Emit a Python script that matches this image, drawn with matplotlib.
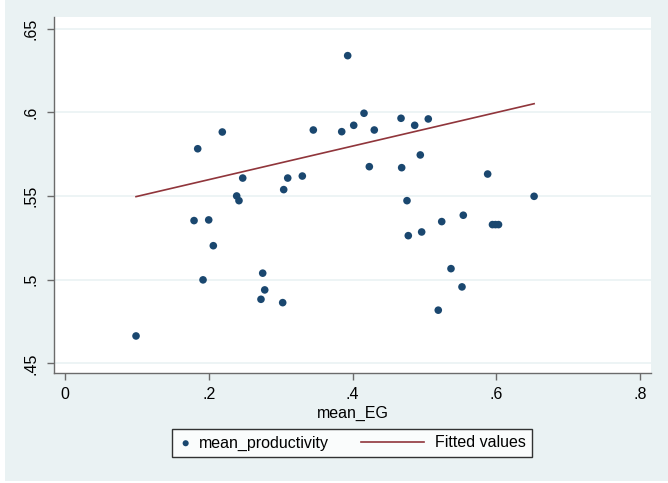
import matplotlib
matplotlib.use("Agg")
import matplotlib.pyplot as plt
from matplotlib.patches import Rectangle
from matplotlib.legend_handler import HandlerLine2D
from matplotlib.lines import Line2D

mean_EG = [0.0989, 0.1796, 0.1847, 0.1921, 0.2000, 0.2064, 0.2189, 0.2389, 0.2421, 0.2473,
           0.2727, 0.2751, 0.2779, 0.3029, 0.3043, 0.3099, 0.3302, 0.3455, 0.3850, 0.3933,
           0.4017, 0.4160, 0.4234, 0.4303, 0.4675, 0.4684, 0.4758, 0.4776, 0.4865, 0.4943,
           0.4962, 0.5054, 0.5193, 0.5241, 0.5370, 0.5523, 0.5541, 0.5880, 0.5947, 0.5989,
           0.6031, 0.6526]
mean_productivity = [0.4664, 0.5353, 0.5782, 0.4999, 0.5357, 0.5203, 0.5882, 0.5500, 0.5472, 0.5607,
                     0.4883, 0.5039, 0.4939, 0.4863, 0.5538, 0.5607, 0.5619, 0.5894, 0.5884, 0.6338,
                     0.5922, 0.5994, 0.5675, 0.5894, 0.5964, 0.5669, 0.5472, 0.5263, 0.5922, 0.5745,
                     0.5285, 0.5960, 0.4818, 0.5347, 0.5066, 0.4957, 0.5385, 0.5631, 0.5329, 0.5329,
                     0.5329, 0.5498]
fit_x = [0.0989, 0.6526]
fit_y = [0.5496, 0.6051]

x_ticks = [0, 0.2, 0.4, 0.6, 0.8]
x_ticklabels = ["0", ".2", ".4", ".6", ".8"]
y_ticks = [0.45, 0.5, 0.55, 0.6, 0.65]
y_ticklabels = [".45", ".5", ".55", ".6", ".65"]

plt.rcParams['font.family'] = ['Liberation Sans', 'DejaVu Sans']


class LongLeftLine(HandlerLine2D):
    def create_artists(self, legend, orig_handle, xdescent, ydescent, width, height,
                       fontsize, trans):
        y = height / 2 - ydescent
        line = Line2D([-xdescent - 3.3 * fontsize, -xdescent + width - 0.27 * fontsize], [y, y])
        self.update_prop(line, orig_handle, legend)
        line.set_transform(trans)
        return [line]


W, H = 668, 483
fig = plt.figure(figsize=(W / 100, H / 100), dpi=100)
fig.patch.set_facecolor("white")
bg = "#EAF2F3"
fig.patches.append(Rectangle((5 / W, (H - 481) / H), 1 - 5 / W, 481 / H,
                             transform=fig.transFigure, facecolor=bg, edgecolor="none", zorder=-10))

left, right = 54 / W, 651 / W
bottom, top = (H - 373.3) / H, (H - 17.3) / H
ax = fig.add_axes([left, bottom, right - left, top - bottom])
ax.set_facecolor("white")

ax.set_xlim(-0.0152, 0.8152)
ax.set_ylim(0.4441, 0.6567)

for yt in y_ticks:
    ax.axhline(yt, color=bg, linewidth=1.2, zorder=0)

sc = ax.scatter(mean_EG, mean_productivity, s=30, color="#1A476F", edgecolors="none",
                zorder=3, label="mean_productivity")
ln, = ax.plot(fit_x, fit_y, color="#90353B", linewidth=1.2, zorder=2, label="Fitted values")

ax.set_xticks(x_ticks)
ax.set_xticklabels(x_ticklabels, fontsize=11.5)
ax.set_yticks(y_ticks)
ax.set_yticklabels(y_ticklabels, fontsize=11.5, rotation=90, va="center")

for s in ["top", "right"]:
    ax.spines[s].set_visible(False)
for s in ["left", "bottom"]:
    ax.spines[s].set_color("#6b6b6b")
    ax.spines[s].set_linewidth(1.0)
ax.tick_params(axis="both", direction="out", length=5, width=1.0, color="#6b6b6b",
               labelcolor="black")
ax.tick_params(axis="x", pad=5)
ax.tick_params(axis="y", pad=6)

ax.set_xlabel("mean_EG", fontsize=11.5, labelpad=3)

leg = fig.legend(handles=[sc, ln], labels=["mean_productivity", "Fitted values"],
                 loc="center", bbox_to_anchor=(352 / W, (H - 443) / H), ncol=2,
                 fontsize=11.5, frameon=True, fancybox=False, markerscale=0.8,
                 handlelength=0.9, columnspacing=5.3, handletextpad=0.4,
                 borderpad=0.42, handler_map={ln: LongLeftLine()})
leg.get_frame().set_edgecolor("black")
leg.get_frame().set_linewidth(1.0)
leg.get_frame().set_facecolor("white")

fig.savefig("out.png", dpi=100, facecolor=fig.get_facecolor())
